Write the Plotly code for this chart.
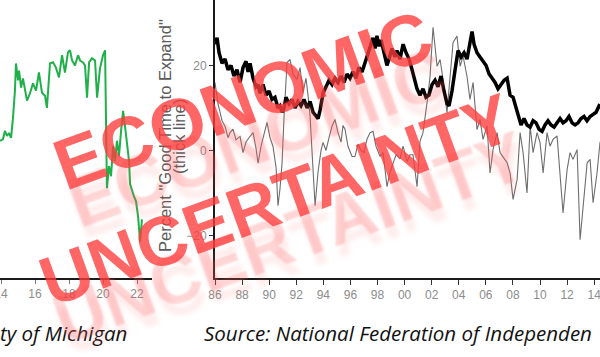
import plotly.graph_objects as go

# ---------------- data ----------------
# Left panel: University of Michigan consumer sentiment
mich_year = [2013.94, 2014.12, 2014.23, 2014.35, 2014.47, 2014.59, 2014.70, 2014.82, 2014.88, 2015.00,
             2015.06, 2015.18, 2015.29, 2015.41, 2015.53, 2015.70, 2015.88, 2016.06, 2016.23, 2016.41,
             2016.59, 2016.70, 2016.88, 2017.06, 2017.23, 2017.41, 2017.59, 2017.76, 2017.94, 2018.06,
             2018.18, 2018.35, 2018.53, 2018.65, 2018.82, 2018.94, 2019.06, 2019.18, 2019.35, 2019.53,
             2019.65, 2019.82, 2020.00, 2020.12, 2020.18, 2020.23, 2020.35, 2020.47, 2020.59, 2020.70,
             2020.82, 2020.94, 2021.06, 2021.18, 2021.29, 2021.41, 2021.53, 2021.59, 2021.71, 2021.82,
             2021.94, 2022.06, 2022.18, 2022.29]
mich_val = [76.5, 77.0, 79.2, 77.8, 78.6, 77.3, 82.4, 89.9, 97.1, 92.6,
            95.2, 90.7, 93.1, 89.9, 87.2, 89.1, 91.8, 89.9, 94.7, 89.3,
            88.5, 85.3, 97.1, 97.4, 96.0, 93.4, 99.3, 94.7, 100.1, 100.6,
            97.9, 96.6, 99.3, 97.9, 97.4, 96.6, 88.0, 97.4, 98.5, 97.9,
            88.0, 95.8, 99.3, 100.6, 84.5, 63.9, 69.8, 67.1, 75.1, 71.1,
            76.5, 72.5, 79.2, 84.5, 80.5, 76.5, 71.1, 65.0, 63.1, 61.7,
            60.4, 56.4, 49.7, 55.6]
mich_ticks = [2014, 2016, 2018, 2020, 2022]
mich_ticktext = ["14", "16", "18", "20", "22"]

# Right panel: NFIB "Good time to expand" (thick) and second series (thin)
exp_year = [1986.00, 1986.15, 1986.30, 1986.52, 1986.74, 1986.96, 1987.18, 1987.40, 1987.62, 1987.85,
            1988.07, 1988.29, 1988.44, 1988.59, 1988.81, 1989.03, 1989.18, 1989.32, 1989.55, 1989.77,
            1989.99, 1990.21, 1990.43, 1990.65, 1990.80, 1990.95, 1991.10, 1991.24, 1991.47, 1991.69,
            1991.91, 1992.13, 1992.35, 1992.57, 1992.80, 1993.02, 1993.24, 1993.46, 1993.61, 1993.76,
            1993.98, 1994.20, 1994.42, 1994.64, 1994.86, 1995.08, 1995.31, 1995.53, 1995.75, 1995.97,
            1996.19, 1996.41, 1996.63, 1996.86, 1997.08, 1997.30, 1997.52, 1997.67, 1997.82, 1997.96,
            1998.11, 1998.26, 1998.48, 1998.70, 1998.85, 1999.07, 1999.29, 1999.44, 1999.66, 1999.89,
            2000.11, 2000.33, 2000.55, 2000.70, 2000.92, 2001.14, 2001.36, 2001.58, 2001.80, 2002.03,
            2002.25, 2002.47, 2002.69, 2002.91, 2003.13, 2003.28, 2003.50, 2003.73, 2003.95, 2004.17,
            2004.39, 2004.61, 2004.83, 2004.98, 2005.13, 2005.35, 2005.57, 2005.79, 2006.02, 2006.24,
            2006.46, 2006.68, 2006.90, 2007.12, 2007.35, 2007.57, 2007.79, 2008.01, 2008.23, 2008.45,
            2008.60, 2008.82, 2009.04, 2009.27, 2009.49, 2009.71, 2009.93, 2010.15, 2010.37, 2010.59,
            2010.81, 2011.04, 2011.26, 2011.48, 2011.70, 2011.92, 2012.14, 2012.37, 2012.59, 2012.81,
            2013.03, 2013.25, 2013.47, 2013.70, 2013.92, 2014.14, 2014.36, 2014.58]
exp_val = [25, 26.5, 23, 20.5, 21.5, 19, 20, 17.5, 19, 16,
           19.5, 21, 18.5, 20.5, 17, 15, 15.5, 13.5, 15.5, 13,
           14, 12, 12.5, 10, 10.5, 9, 10, 12.5, 11, 12,
           10, 11.5, 10.5, 12, 10, 11.5, 9, 8, 7.5, 9.5,
           13.5, 15, 16.5, 15.5, 17, 16, 17.5, 16, 18, 17,
           18.5, 17, 19.5, 18.5, 20.5, 22.5, 25, 26.5, 24, 27,
           24.5, 26, 23, 20, 21.5, 24, 22, 23.5, 21.5, 25,
           23, 21.5, 19, 17, 14.5, 13, 14.5, 12.5, 13, 15.5,
           16.5, 15, 17.5, 14, 11, 10.5, 14, 19, 23.5, 22,
           23, 21.5, 25, 28, 25, 23, 22, 21, 20, 18,
           17, 16, 14.5, 15.5, 16.5, 17, 13, 12.5, 10, 8,
           6, 7.5, 6, 5.5, 7, 6.5, 5, 4.5, 6, 7,
           6, 5.5, 6.5, 7.5, 6.5, 7, 8, 6.5, 6, 6.5,
           7.5, 8, 7, 8, 8.5, 9, 10.5, 10]

thin_year = [1986.00, 1986.22, 1986.37, 1986.52, 1986.74, 1986.96, 1987.11, 1987.33, 1987.55, 1987.85,
             1988.07, 1988.29, 1988.51, 1988.81, 1989.03, 1989.18, 1989.40, 1989.62, 1989.84, 1990.06,
             1990.28, 1990.51, 1990.65, 1990.80, 1990.95, 1991.10, 1991.32, 1991.54, 1991.76, 1992.06,
             1992.28, 1992.50, 1992.72, 1992.87, 1993.02, 1993.16, 1993.39, 1993.61, 1993.83, 1993.98,
             1994.20, 1994.42, 1994.64, 1994.86, 1995.08, 1995.31, 1995.45, 1995.60, 1995.82, 1996.12,
             1996.34, 1996.56, 1996.78, 1997.00, 1997.23, 1997.45, 1997.67, 1997.89, 1998.19, 1998.41,
             1998.70, 1998.93, 1999.15, 1999.37, 1999.66, 1999.89, 2000.18, 2000.40, 2000.62, 2000.92,
             2001.14, 2001.36, 2001.66, 2001.88, 2002.10, 2002.40, 2002.62, 2002.84, 2003.13, 2003.36,
             2003.58, 2003.87, 2004.10, 2004.32, 2004.61, 2004.83, 2005.06, 2005.35, 2005.57, 2005.79,
             2006.09, 2006.31, 2006.53, 2006.83, 2007.05, 2007.27, 2007.57, 2007.79, 2008.01, 2008.31,
             2008.53, 2008.75, 2009.04, 2009.27, 2009.49, 2009.78, 2010.00, 2010.23, 2010.52, 2010.74,
             2010.96, 2011.26, 2011.48, 2011.70, 2012.00, 2012.22, 2012.44, 2012.74, 2012.96, 2013.18,
             2013.48, 2013.70, 2013.92, 2014.21, 2014.43, 2014.66]
thin_val = [16, 11, 9, 7, 5.7, 3, 4.2, 5, 2.5, 3.3,
            -0.5, 2, 3, 4.2, 0.5, -3, 1, 4, 6.6, 3,
            1, -4, -13, -9, -3, 8, 20.7, 21.4, 18, 16.7,
            19.5, 13.6, 17, 13, 8, 0, -13, -5, 0, 1.9,
            0, 3, 5.7, 7.3, 4.2, 2, 5.9, 5, 1, -1.4,
            -1.4, 1.5, 0, -0.5, 2.7, 4.2, 4.5, 1, -1.4, -0.5,
            -8.5, -5, -3, -1, -2, 1, -2.6, -1, -1, -8.5,
            2.2, 4.2, 11.3, 17.4, 29, 19.8, 21.4, 16.7, 8.9, 16.7,
            25.4, 26.9, 19.8, 22.2, 17.4, 12, 16, 4.9, 7.3, 2.6,
            5.7, -5.3, 0.2, 4.2, -0.5, -1.5, -2.9, -5.3, -11.5, -6.8,
            4.2, -0.5, -10, 5.7, -0.5, 4.2, 1.9, -5.3, 4.2, 1,
            2.6, 3.4, -5.3, -14.7, -4.5, -0.5, -2.1, 0.2, -21, -13.1,
            -2.9, -2.1, -12.3, -5.3, 1.9, 3]
nfib_ticks = list(range(1986, 2016, 2))
nfib_ticktext = ["86", "88", "90", "92", "94", "96", "98", "00", "02", "04", "06", "08", "10", "12", "14"]
nfib_yticks = [-20, 0, 20]

# ---------------- figure ----------------
W, H = 600, 357
MB = 79
plot_h = H - MB

TICKFONT = dict(family="Liberation Sans, Arial, sans-serif", size=12, color="#8c8c8c")

fig = go.Figure()
fig.add_trace(go.Scatter(x=mich_year, y=mich_val, mode="lines", xaxis="x", yaxis="y",
                         line=dict(color="#1fb04a", width=2), showlegend=False, hoverinfo="skip"))
fig.add_trace(go.Scatter(x=thin_year, y=thin_val, mode="lines", xaxis="x2", yaxis="y2",
                         line=dict(color="#6e6e6e", width=1.1), showlegend=False, hoverinfo="skip"))
fig.add_trace(go.Scatter(x=exp_year, y=exp_val, mode="lines", xaxis="x2", yaxis="y2",
                         line=dict(color="#000000", width=3.5), showlegend=False, hoverinfo="skip"))

def px_x(p):
    return p / W

def px_y(p):
    return (plot_h - p) / plot_h

annotations = []
# y-axis title of right panel (two lines)
TITLEFONT = dict(family="Liberation Sans, Arial, sans-serif", size=16.5, color="#5a5a5a")
annotations.append(dict(text='Percent "Good Time to Expand"', x=px_x(165), y=px_y(136), xref="paper", yref="paper",
                        showarrow=False, textangle=-90, xanchor="center", yanchor="middle", font=TITLEFONT))
annotations.append(dict(text='(thick line)', x=px_x(179), y=px_y(137), xref="paper", yref="paper",
                        showarrow=False, textangle=-90, xanchor="center", yanchor="middle", font=TITLEFONT))
# captions
CAP = dict(family="Open Sans, Noto Sans, sans-serif", size=20.5, color="#111111", style="italic")
annotations.append(dict(text="ty of Michigan", x=px_x(129), y=px_y(333), xref="paper", yref="paper",
                        showarrow=False, xanchor="right", yanchor="middle", font=CAP))
annotations.append(dict(text="Source: National Federation of Independen", x=px_x(202), y=px_y(333),
                        xref="paper", yref="paper", showarrow=False, xanchor="left", yanchor="middle", font=CAP))

# watermark, with a faded "reflection" drawn as a text shadow below each word
WM_FAMILY = "Liberation Sans Narrow, Arial Narrow, sans-serif"
REFLECT = "0px 40px 2px rgba(255,90,90,0.32), 0px 52px 5px rgba(255,90,90,0.15)"
for word, cx, cy, size in [("ECONOMIC", 243, 100, 72), ("UNCERTAINTY", 276, 200, 70)]:
    annotations.append(dict(text="<b>%s</b>" % word, x=px_x(cx), y=px_y(cy), xref="paper", yref="paper",
                            showarrow=False, textangle=-20, xanchor="center", yanchor="middle",
                            font=dict(family=WM_FAMILY, size=size, color="rgba(255,60,60,0.78)",
                                      shadow=REFLECT)))

AX = dict(showgrid=False, zeroline=False, fixedrange=True, automargin=False)
fig.update_layout(
    width=W, height=H,
    margin=dict(l=0, r=0, t=0, b=MB, pad=0, autoexpand=False),
    paper_bgcolor="white", plot_bgcolor="white",
    xaxis=dict(domain=[0, 152 / W], range=[2013.94, 2022.88], tickvals=mich_ticks, ticktext=mich_ticktext,
               showline=True, linecolor="#1a1a1a", linewidth=2, ticks="outside", ticklen=4, tickcolor="#777",
               tickfont=TICKFONT, ticklabeloverflow="allow", anchor="y", **AX),
    yaxis=dict(domain=[0, 1], range=[40, 114], visible=False, anchor="x", **AX),
    xaxis2=dict(domain=[215 / W, 1.0], range=[1986, 2014.43], tickvals=nfib_ticks, ticktext=nfib_ticktext,
                showline=True, linecolor="#1a1a1a", linewidth=2, ticks="outside", ticklen=5, tickcolor="#333",
                tickfont=TICKFONT, ticklabeloverflow="allow", anchor="y2", **AX),
    yaxis2=dict(domain=[0, 1], range=[-30, 35.4], tickvals=nfib_yticks, showline=True, linecolor="#1a1a1a",
                linewidth=2, ticks="outside", ticklen=4, tickcolor="#333", tickfont=TICKFONT,
                anchor="x2", **AX),
    annotations=annotations,
)

fig.write_html("out.html", config={"displayModeBar": False},
               post_script="document.body.style.margin='0';document.body.style.padding='0';")
